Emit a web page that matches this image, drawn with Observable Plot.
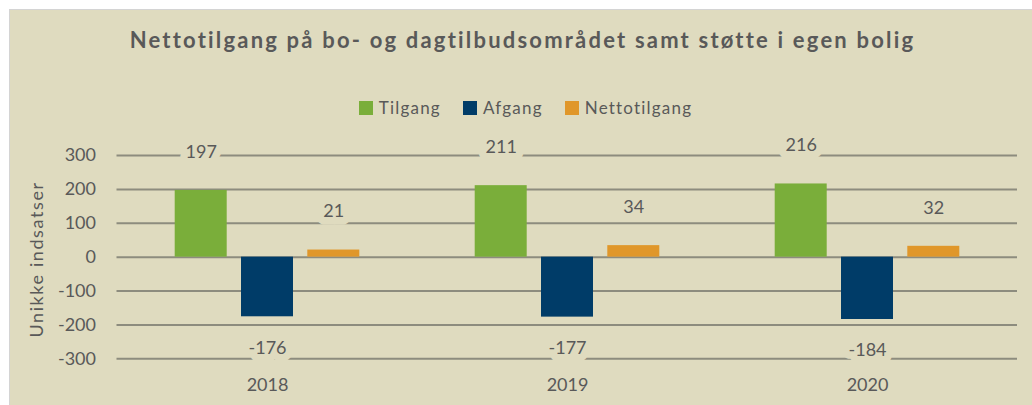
<!DOCTYPE html>
<html>
<head>
<meta charset="utf-8">
<script src="https://cdn.jsdelivr.net/npm/d3@7"></script>
<script src="https://cdn.jsdelivr.net/npm/@observablehq/plot@0.6"></script>
<style>
  html, body { margin: 0; padding: 0; background: #ffffff; }
  body { width: 1032px; height: 405px; position: relative; overflow: hidden; font-family: Lato, "Open Sans", sans-serif; }
  #bg { position: absolute; left: 9px; top: 9px; width: 1023px; height: 396px; background: #dfdbbf; border-left: 1px solid #d4d4d4; border-top: 1px solid #d4d4d4; box-sizing: border-box; }
  #title { position: absolute; left: 0; width: 1045px; top: 26px; text-align: center; font-weight: 700; font-size: 22px; color: #595959; letter-spacing: 2.2px; white-space: nowrap; }
  #legend { position: absolute; left: 0; width: 1051px; top: 97px; display: flex; justify-content: center; gap: 22px; font-size: 17px; color: #595959; letter-spacing: 1.2px; }
  #legend .item { display: flex; align-items: center; gap: 6px; }
  #legend .sw { width: 14px; height: 14px; display: inline-block; }
  #chart { position: absolute; left: 0; top: 130px; }
</style>
</head>
<body>
<div id="bg"></div>
<div id="title">Nettotilgang på bo- og dagtilbudsområdet samt støtte i egen bolig</div>
<div id="legend"></div>
<div id="chart"></div>
<script>
const years = ["2018", "2019", "2020"];
const seriesNames = ["Tilgang", "Afgang", "Nettotilgang"];
const tilgang = [197, 211, 216];
const afgang = [-176, -177, -184];
const nettotilgang = [21, 34, 32];
const seriesColors = ["#7aae3a", "#003c68", "#e0972a"];
const yTicks = [-300, -200, -100, 0, 100, 200, 300];
const yTitle = "Unikke indsatser";

const seriesValues = [tilgang, afgang, nettotilgang];
const rows = [];
seriesNames.forEach((s, si) => {
  years.forEach((y, yi) => rows.push({year: y, series: s, value: seriesValues[si][yi]}));
});

// legend
const legend = document.getElementById("legend");
seriesNames.forEach((s, i) => {
  const item = document.createElement("span");
  item.className = "item";
  const sw = document.createElement("span");
  sw.className = "sw";
  sw.style.background = seriesColors[i];
  const t = document.createElement("span");
  t.textContent = s;
  item.append(sw, t);
  legend.append(item);
});

const bg = "#dfdbbf";
const step = 66.3;
const inset = 124;
const marks = [
  Plot.ruleY(yTicks, {stroke: "#8d8c7e", strokeWidth: 2})
];
seriesNames.forEach((s, i) => {
  const d = rows.filter(r => r.series === s);
  marks.push(Plot.barY(d, {x: "year", y1: 0, y2: "value", fill: "series", dx: (i - 1) * step, insetLeft: inset, insetRight: inset}));
});
seriesNames.forEach((s, i) => {
  const pos = rows.filter(r => r.series === s && r.value >= 0);
  const neg = rows.filter(r => r.series === s && r.value < 0);
  const common = {x: "year", y: "value", text: r => String(r.value), dx: (i - 1) * step, fontSize: 18, fill: "#595959", stroke: bg, strokeWidth: 15, strokeLinejoin: "round", paintOrder: "stroke"};
  marks.push(Plot.text(pos, {...common, dy: -38.5}));
  marks.push(Plot.text(neg, {...common, dy: 31}));
});
marks.push(Plot.text(years, {x: d => d, frameAnchor: "bottom", dy: 31.7, fontSize: 18, fill: "#595959"}));
marks.push(Plot.text([yTitle], {frameAnchor: "left", textAnchor: "middle", rotate: -90, dx: -79.3, dy: 2.3, fontSize: 18, fill: "#595959"}));

const chart = Plot.plot({
  width: 1032,
  height: 275,
  marginLeft: 116.5,
  marginRight: 15,
  marginTop: 25,
  marginBottom: 46.7,
  style: {background: "transparent", fontFamily: "Lato, 'Open Sans', sans-serif", fontSize: "18px", color: "#595959"},
  x: {domain: years, padding: 0, axis: null},
  y: {domain: [-300, 300], ticks: yTicks, tickSize: 0, tickPadding: 21, tickFormat: d => String(d), label: null},
  color: {domain: seriesNames, range: seriesColors},
  marks
});
chart.querySelectorAll("text").forEach(t => {
  if (t.textContent === yTitle) t.style.letterSpacing = "1.6px";
});
document.getElementById("chart").append(chart);
</script>
</body>
</html>
